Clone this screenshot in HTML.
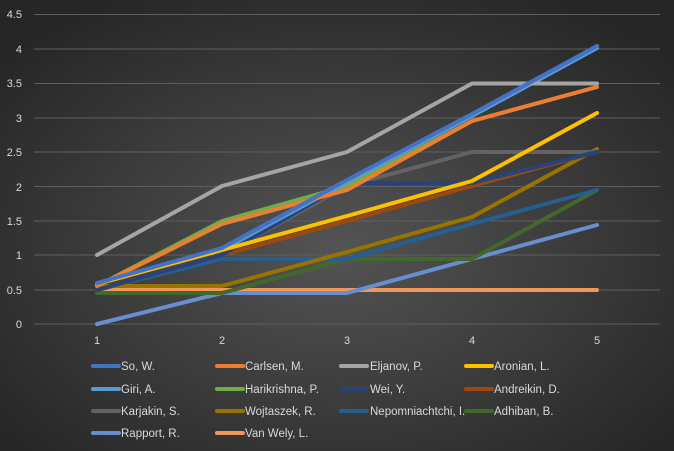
<!DOCTYPE html><html><head><style>body{margin:0;background:#333;overflow:hidden}</style></head><body>
<svg width="674" height="451" xmlns="http://www.w3.org/2000/svg" font-family="Liberation Sans, sans-serif" style="display:block">
<defs><radialGradient id="g" cx="50%" cy="55%" r="65%"><stop offset="0" stop-color="#545454"/><stop offset="1" stop-color="#262626"/></radialGradient></defs>
<rect width="674" height="451" fill="url(#g)"/>
<g stroke="#5e5e5e" stroke-width="1">
<line x1="34" x2="660" y1="14.5" y2="14.5"/><line x1="34" x2="660" y1="49" y2="49"/><line x1="34" x2="660" y1="83.5" y2="83.5"/><line x1="34" x2="660" y1="118" y2="118"/><line x1="34" x2="660" y1="152" y2="152"/><line x1="34" x2="660" y1="186.5" y2="186.5"/><line x1="34" x2="660" y1="221" y2="221"/><line x1="34" x2="660" y1="255" y2="255"/><line x1="34" x2="660" y1="290" y2="290"/><line x1="34" x2="660" y1="324" y2="324"/>
</g>
<g fill="#d9d9d9" font-size="11" text-anchor="end">
<text x="22" y="18">4.5</text><text x="22" y="53">4</text><text x="22" y="87">3.5</text><text x="22" y="122">3</text><text x="22" y="156">2.5</text><text x="22" y="191">2</text><text x="22" y="225">1.5</text><text x="22" y="259">1</text><text x="22" y="294">0.5</text><text x="22" y="328">0</text>
</g>
<g fill="#d9d9d9" font-size="11" text-anchor="middle">
<text x="97" y="344">1</text><text x="222" y="344">2</text><text x="347" y="344">3</text><text x="472" y="344">4</text><text x="597" y="344">5</text>
</g>
<g fill="none" stroke-width="4" stroke-linejoin="round" stroke-linecap="round">
<polyline stroke="#F1975A" points="97,290 222,290 347,290 472,290 597,290"/>
<polyline stroke="#698ED0" points="97,324 222,293 347,293 472,259 597,225"/>
<polyline stroke="#43682B" points="97,293 222,293 347,259 472,259 597,190"/>
<polyline stroke="#255E91" points="97,290 222,259 347,259 472,224 597,190"/>
<polyline stroke="#997300" points="97,286 222,286 347,252 472,217 597,149"/>
<polyline stroke="#636363" points="97,290 222,255 347,186 472,152 597,152"/>
<polyline stroke="#9E480E" points="97,290 222,255 347,221 472,186 597,152"/>
<polyline stroke="#264478" points="97,290 222,255 347,183 472,183 597,152"/>
<polyline stroke="#70AD47" points="97,286 222,221 347,186 472,121 597,87"/>
<polyline stroke="#5B9BD5" points="97,284 222,250 347,182 472,116 597,48"/>
<polyline stroke="#FFC000" points="97,284 222,250 347,216 472,181 597,113"/>
<polyline stroke="#A5A5A5" points="97,255 222,186 347,152 472,83.5 597,83.5"/>
<polyline stroke="#ED7D31" points="97,286 222,224 347,190 472,121 597,87"/>
<polyline stroke="#4472C4" points="97,283 222,248 347,180 472,114 597,46"/>
</g>
<g stroke-width="4" stroke-linecap="round">
<line x1="93" x2="119" y1="366" y2="366" stroke="#4472C4"/><line x1="217" x2="243" y1="366" y2="366" stroke="#ED7D31"/><line x1="341" x2="367" y1="366" y2="366" stroke="#A5A5A5"/><line x1="466" x2="492" y1="366" y2="366" stroke="#FFC000"/>
<line x1="93" x2="119" y1="389" y2="389" stroke="#5B9BD5"/><line x1="217" x2="243" y1="389" y2="389" stroke="#70AD47"/><line x1="341" x2="367" y1="389" y2="389" stroke="#264478"/><line x1="466" x2="492" y1="389" y2="389" stroke="#9E480E"/>
<line x1="93" x2="119" y1="411" y2="411" stroke="#636363"/><line x1="217" x2="243" y1="411" y2="411" stroke="#997300"/><line x1="341" x2="367" y1="411" y2="411" stroke="#255E91"/><line x1="466" x2="492" y1="411" y2="411" stroke="#43682B"/>
<line x1="93" x2="119" y1="433" y2="433" stroke="#698ED0"/><line x1="217" x2="243" y1="433" y2="433" stroke="#F1975A"/>
</g>
<g fill="#d9d9d9" font-size="11.5">
<text x="121" y="370">So, W.</text><text x="245" y="370">Carlsen, M.</text><text x="370" y="370">Eljanov, P.</text><text x="494" y="370">Aronian, L.</text>
<text x="121" y="393">Giri, A.</text><text x="245" y="393">Harikrishna, P.</text><text x="370" y="393">Wei, Y.</text><text x="494" y="393">Andreikin, D.</text>
<text x="121" y="415">Karjakin, S.</text><text x="245" y="415">Wojtaszek, R.</text><text x="370" y="415">Nepomniachtchi, I.</text><text x="494" y="415">Adhiban, B.</text>
<text x="121" y="437">Rapport, R.</text><text x="245" y="437">Van Wely, L.</text>
</g>
</svg>
</body></html>
